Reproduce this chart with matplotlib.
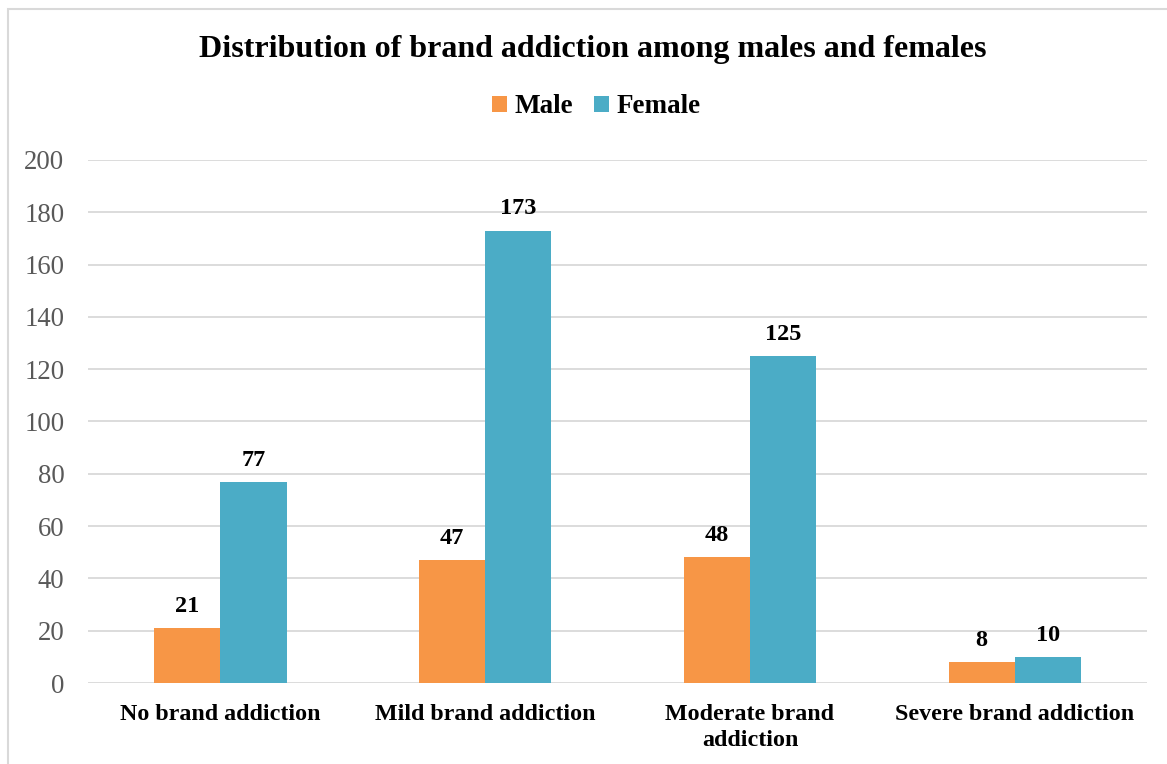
import numpy as np
import matplotlib.pyplot as plt
from matplotlib.patches import Rectangle

plt.rcParams['font.family'] = ['Liberation Serif', 'DejaVu Serif']

categories = ["No brand addiction", "Mild brand addiction",
              "Moderate brand\naddiction", "Severe brand addiction"]
male = [21, 47, 48, 8]
female = [77, 173, 125, 10]
yticks = [0, 20, 40, 60, 80, 100, 120, 140, 160, 180, 200]

male_color = '#F79646'
female_color = '#4BACC6'
grid_color = '#D9D9D9'

fig = plt.figure(figsize=(11.67, 7.64), dpi=100)
ax = fig.add_axes([0.0754, 0.106, 0.9076, 0.6846])

# outer chart frame
fig.patches.append(Rectangle((8 / 1167, -0.01), 1.02, 1 - 9 / 764 + 0.01,
                             transform=fig.transFigure, fill=False,
                             edgecolor=grid_color, linewidth=1.5))

x = np.arange(len(categories))
w = 0.25
b1 = ax.bar(x - w / 2, male, w, color=male_color, label='Male')
b2 = ax.bar(x + w / 2, female, w, color=female_color, label='Female')

for bars in (b1, b2):
    for rect in bars:
        h = rect.get_height()
        ax.annotate(f"{h:g}", (rect.get_x() + rect.get_width() / 2, h),
                    xytext=(0, 8), textcoords='offset points',
                    ha='center', va='bottom', fontsize=17.5, fontweight='bold')

ax.set_xlim(-0.5, 3.5)
ax.set_ylim(0, 200)
ax.set_yticks(yticks)
ax.set_xticks(x)
ax.set_xticklabels(categories, fontsize=17.3, fontweight='bold', linespacing=1.35)
ax.tick_params(axis='y', labelsize=19.3, labelcolor='#595959', length=0, pad=17)
ax.tick_params(axis='x', length=0, pad=15)
ax.yaxis.grid(True, color=grid_color, linewidth=1.3)
ax.set_axisbelow(True)
for s in ax.spines.values():
    s.set_visible(False)

fig.text(0.508, 0.935, "Distribution of brand addiction among males and females",
         ha='center', va='center', fontsize=23, fontweight='bold')

fig.legend(loc='center', bbox_to_anchor=(0.511, 0.86), ncol=2, frameon=False,
           prop={'size': 19.5, 'weight': 'bold'}, handlelength=0.55, handleheight=0.55,
           handletextpad=0.25, columnspacing=0.8)

fig.savefig('out.png', dpi=100)
